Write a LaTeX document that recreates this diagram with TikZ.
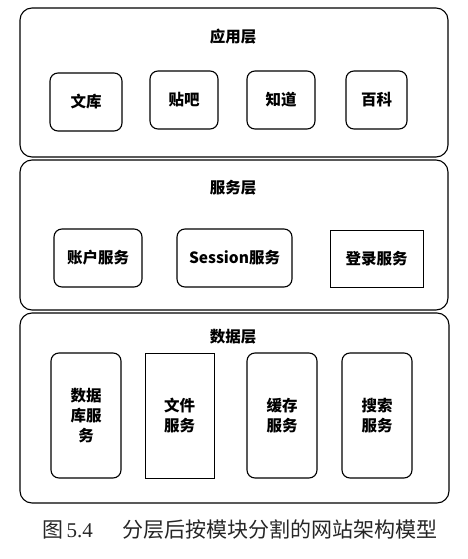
\documentclass[tikz,border=0pt]{standalone}
\usepackage{fontspec}
\setmainfont{Noto Sans CJK SC}
\newfontfamily\capfont{Noto Sans CJK SC}
\newfontfamily\numfont{Liberation Serif}
\usepackage{tikz}
\usetikzlibrary{positioning}

\begin{document}
\begin{tikzpicture}[
  x=1pt, y=-1pt,
  layer/.style={draw=black, line width=1.1pt, rounded corners=12pt,
                minimum width=428pt, inner sep=0pt},
  box/.style={draw=black, line width=1.1pt, rounded corners=8pt, align=center,
              font=\fontsize{15.5}{20}\selectfont\bfseries, minimum height=58pt, inner sep=0pt},
  sqbox/.style={box, rounded corners=0pt, line width=1pt},
  ttl/.style={font=\fontsize{15.5}{18}\selectfont\bfseries, inner sep=0pt}
]
\useasboundingbox (0,0) rectangle (468,559);
% layers
\node[layer, minimum height=149pt] (app) at (234,82.5) {};
\node[layer, minimum height=150pt] (svc) at (234,235) {};
\node[layer, minimum height=190pt, minimum width=429pt] (dat) at (234.5,408) {};
\node[ttl] (appt) at (233,37) {应用层};
\node[ttl] (svct) at (233,188) {服务层};
\node[ttl] (datt) at (233,337) {数据层};
% application layer
\node[box, minimum width=72pt] (wenku) at (86,102) {文库};
\node[box, minimum width=68pt] (tieba) at (184,100) {贴吧};
\node[box, minimum width=68pt] (zhidao) at (281,100) {知道};
\node[box, minimum width=61pt] (baike) at (376.5,100) {百科};
% service layer
\node[box, minimum width=88pt] (acct) at (98,258) {账户服务};
\node[box, minimum width=115pt] (sess) at (234.5,258) {Session服务};
\node[sqbox, minimum width=93pt, minimum height=57pt] (login) at (376.5,258.5) {登录服务};
% data layer
\node[box, minimum width=70pt, minimum height=125pt] (db) at (86,415.5) {数据\\库服\\务};
\node[sqbox, minimum width=69pt, minimum height=125pt] (file) at (179.5,415.5) {文件\\服务};
\node[box, minimum width=70pt, minimum height=125pt] (cache) at (282,415.5) {缓存\\服务};
\node[box, minimum width=70pt, minimum height=125pt] (search) at (377,415.5) {搜索\\服务};
% caption
\node[anchor=west, inner sep=0pt, text=black!85, font=\fontsize{21}{25}\selectfont] (cap) at (42,530)
  {\capfont 图\,\numfont 5.4\hspace{30pt}\capfont 分层后按模块分割的网站架构模型};
\end{tikzpicture}
\end{document}
